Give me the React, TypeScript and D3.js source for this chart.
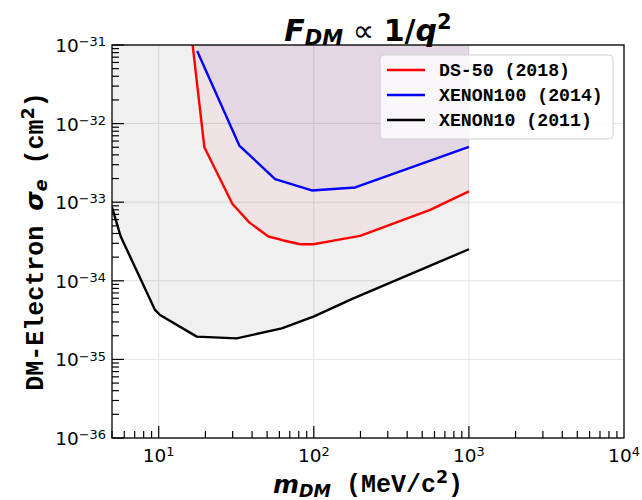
import { useEffect, useRef } from "react";
import * as d3 from "d3";

// (mass in MeV/c^2, cross section in cm^2)
const dsMass = [16.3, 19.7, 29.9, 38.5, 51, 63.7, 81.6, 99.5, 134, 199, 563, 1000];
const dsSigma = [1.3e-31, 5.0e-33, 9.5e-34, 5.5e-34, 3.66e-34, 3.26e-34, 2.92e-34, 2.92e-34, 3.24e-34, 3.73e-34, 8.0e-34, 1.37e-33];

const x100Mass = [17.7, 33.1, 56.3, 97, 185, 1000];
const x100Sigma = [8.4e-32, 5.25e-33, 1.97e-33, 1.41e-33, 1.54e-33, 5.04e-33];

const x10Mass = [5.0, 5.69, 9.47, 10.2, 17.6, 31.8, 62.2, 99.5, 180, 1000];
const x10Sigma = [8.6e-34, 3.66e-34, 4.26e-35, 3.67e-35, 1.95e-35, 1.85e-35, 2.48e-35, 3.5e-35, 5.98e-35, 2.52e-34];

const seriesNames = ["DS-50 (2018)", "XENON100 (2014)", "XENON10 (2011)"];
const seriesColors = ["#ff0000", "#0000ff", "#000000"];

const xTickExp = [1, 2, 3, 4];
const yTickExp = [-31, -32, -33, -34, -35, -36];

const W = 642;
const H = 500;
const margin = { top: 45, right: 18, bottom: 62, left: 112 };

const mono = "'Liberation Mono', 'Courier New', monospace";
const sans = "'DejaVu Sans', sans-serif";

export default function App() {
  const svgRef = useRef<SVGSVGElement>(null);

  useEffect(() => {
    document.body.style.margin = "0";
    const svg = d3.select(svgRef.current);
    svg.selectAll("*").remove();

    const x = d3.scaleLog().domain([5, 1e4]).range([margin.left, W - margin.right]);
    const y = d3.scaleLog().domain([1e-36, 1e-31]).range([H - margin.bottom, margin.top]);
    const [x0, x1] = x.range();
    const [y0, y1] = y.range();

    svg.append("rect").attr("width", W).attr("height", H).attr("fill", "#fff");

    svg
      .append("defs")
      .append("clipPath")
      .attr("id", "plotclip")
      .append("rect")
      .attr("x", x0)
      .attr("y", y1)
      .attr("width", x1 - x0)
      .attr("height", y0 - y1);

    // grid
    const grid = svg.append("g").attr("stroke", "#e2e2e2").attr("stroke-width", 1);
    xTickExp.forEach((e) => {
      grid.append("line").attr("x1", x(10 ** e)).attr("x2", x(10 ** e)).attr("y1", y0).attr("y2", y1);
    });
    yTickExp.forEach((e) => {
      grid.append("line").attr("x1", x0).attr("x2", x1).attr("y1", y(10 ** e)).attr("y2", y(10 ** e));
    });

    const plot = svg.append("g").attr("clip-path", "url(#plotclip)");

    const curves = [
      { m: dsMass, s: dsSigma },
      { m: x100Mass, s: x100Sigma },
      { m: x10Mass, s: x10Sigma },
    ];

    const area = d3
      .area<[number, number]>()
      .x((d) => x(d[0]))
      .y0(() => y(1e-30))
      .y1((d) => y(d[1]));
    const line = d3
      .line<[number, number]>()
      .x((d) => x(d[0]))
      .y((d) => y(d[1]));

    const fillAlpha = [0.05, 0.05, 0.06];
    [2, 0, 1].forEach((i) => {
      const pts = curves[i].m.map((m, k) => [m, curves[i].s[k]] as [number, number]);
      plot
        .append("path")
        .attr("d", area(pts))
        .attr("fill", seriesColors[i])
        .attr("fill-opacity", fillAlpha[i]);
    });
    [2, 0, 1].forEach((i) => {
      const pts = curves[i].m.map((m, k) => [m, curves[i].s[k]] as [number, number]);
      plot
        .append("path")
        .attr("d", line(pts))
        .attr("fill", "none")
        .attr("stroke", seriesColors[i])
        .attr("stroke-width", 2.4)
        .attr("stroke-linejoin", "round");
    });

    // ticks (inward, left and bottom only)
    const ticks = svg.append("g").attr("stroke", "#000").attr("stroke-width", 1.2);
    for (let e = 0; e < 4; e++) {
      for (let k = 1; k < 10; k++) {
        const v = k * 10 ** e;
        if (v < 5 || v > 1e4) continue;
        const len = k === 1 ? 12 : 7;
        ticks.append("line").attr("x1", x(v)).attr("x2", x(v)).attr("y1", y0).attr("y2", y0 - len);
      }
    }
    for (let e = -36; e < -31; e++) {
      for (let k = 1; k < 10; k++) {
        const v = k * 10 ** e;
        const len = k === 1 ? 12 : 7;
        ticks.append("line").attr("x1", x0).attr("x2", x0 + len).attr("y1", y(v)).attr("y2", y(v));
      }
    }
    ticks.append("line").attr("x1", x0).attr("x2", x0 + 12).attr("y1", y1).attr("y2", y1);

    // frame
    svg
      .append("rect")
      .attr("x", x0)
      .attr("y", y1)
      .attr("width", x1 - x0)
      .attr("height", y0 - y1)
      .attr("fill", "none")
      .attr("stroke", "#000")
      .attr("stroke-width", 1.3);

    // tick labels
    const lab = svg.append("g").attr("font-family", sans).attr("font-size", 18.5).attr("fill", "#000");
    xTickExp.forEach((e) => {
      const t = lab.append("text").attr("x", x(10 ** e)).attr("y", y0 + 24).attr("text-anchor", "middle");
      t.append("tspan").text("10");
      t.append("tspan").attr("dy", "-0.45em").attr("font-size", "70%").text(String(e));
    });
    yTickExp.forEach((e) => {
      const t = lab.append("text").attr("x", x0 - 6).attr("y", y(10 ** e) + 7).attr("text-anchor", "end");
      t.append("tspan").text("10");
      t.append("tspan").attr("dy", "-0.45em").attr("font-size", "70%").text("\u2212" + String(-e));
    });

    // title
    const title = svg
      .append("text")
      .attr("x", (x0 + x1) / 2)
      .attr("y", 41)
      .attr("text-anchor", "middle")
      .attr("font-family", sans)
      .attr("font-weight", "bold")
      .attr("font-size", 30);
    title.append("tspan").attr("font-style", "italic").text("F");
    title.append("tspan").attr("font-style", "italic").attr("font-size", "70%").attr("dy", "0.2em").text("DM");
    title.append("tspan").attr("font-weight", "normal").attr("dy", "-0.14em").text(" \u221d ");
    title.append("tspan").text("1/");
    title.append("tspan").attr("font-style", "italic").text("q");
    title.append("tspan").attr("font-size", "70%").attr("dy", "-0.55em").text("2");

    // x label
    const xl = svg
      .append("text")
      .attr("x", (x0 + x1) / 2)
      .attr("y", 493)
      .attr("text-anchor", "middle")
      .attr("font-weight", "bold")
      .attr("font-size", 25);
    xl.append("tspan").attr("font-family", sans).attr("font-style", "italic").text("m");
    xl.append("tspan").attr("font-family", sans).attr("font-style", "italic").attr("font-size", 17.5).attr("dy", "0.2em").text("DM");
    xl.append("tspan").attr("font-family", mono).attr("dy", "-0.2em").text("\u00a0(MeV/c");
    xl.append("tspan").attr("font-family", sans).attr("font-size", 17.5).attr("dy", "-0.5em").text("2");
    xl.append("tspan").attr("font-family", mono).attr("dy", "0.35em").text(")");

    // y label
    const yl = svg
      .append("text")
      .attr("transform", `translate(43, ${(y0 + y1) / 2}) rotate(-90)`)
      .attr("text-anchor", "middle")
      .attr("font-weight", "bold")
      .attr("font-size", 25);
    yl.append("tspan").attr("font-family", mono).text("DM-Electron ");
    yl.append("tspan").attr("font-family", sans).attr("font-style", "italic").text("\u03c3");
    yl.append("tspan").attr("font-family", sans).attr("font-style", "italic").attr("font-size", 17.5).attr("dy", "0.2em").text("e");
    yl.append("tspan").attr("font-family", mono).attr("dy", "-0.14em").text("\u00a0(cm");
    yl.append("tspan").attr("font-family", sans).attr("font-size", 17.5).attr("dy", "-0.5em").text("2");
    yl.append("tspan").attr("font-family", mono).attr("dy", "0.35em").text(")");

    // legend
    const lg = svg.append("g");
    lg.append("rect")
      .attr("x", 380)
      .attr("y", 55)
      .attr("width", 233)
      .attr("height", 84)
      .attr("rx", 4)
      .attr("fill", "#fff")
      .attr("fill-opacity", 0.8)
      .attr("stroke", "#d0d0d0");
    seriesNames.forEach((name, i) => {
      const yy = 70 + i * 25;
      lg.append("line")
        .attr("x1", 387)
        .attr("x2", 425)
        .attr("y1", yy)
        .attr("y2", yy)
        .attr("stroke", seriesColors[i])
        .attr("stroke-width", 2.4);
      lg.append("text")
        .attr("x", 439)
        .attr("y", yy + 6)
        .attr("font-family", mono)
        .attr("font-weight", "bold")
        .attr("font-size", 18.2)
        .text(name);
    });
  }, []);

  return <svg ref={svgRef} width={W} height={H} style={{ display: "block" }} />;
}
